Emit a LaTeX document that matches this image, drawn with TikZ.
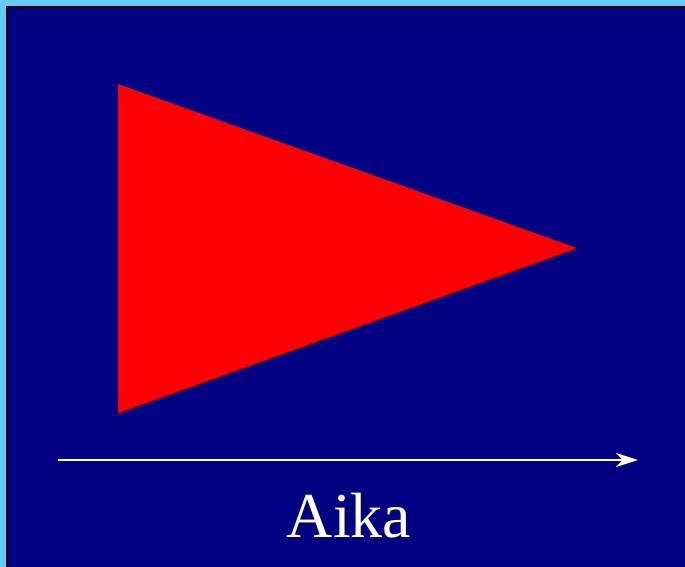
\documentclass[tikz,border=0pt]{standalone}
\usepackage{fontspec}
\setmainfont{Liberation Serif}
\usetikzlibrary{arrows.meta}
\definecolor{skyframe}{HTML}{66CCFF}
\definecolor{deepnavy}{HTML}{000080}

\begin{document}
\begin{tikzpicture}[x=1pt,y=-1pt,>={Stealth[length=22pt,width=14pt,inset=7pt]}]
\useasboundingbox (0,0) rectangle (685,567);
\fill[skyframe] (0,0) rectangle (685,567);
\fill[deepnavy,draw=black,line width=2pt] (7,7) rectangle (700,580);
\fill[red] (118,84)--(577,248)--(118,413)--cycle;
\coordinate (tail) at (58,460);
\coordinate (head) at (638,460);
\draw[white,line width=2pt,->] (tail) -- (head);
\node[white,font=\fontsize{64}{76}\selectfont] (aika) at (349,516) {Aika};
\end{tikzpicture}
\end{document}
